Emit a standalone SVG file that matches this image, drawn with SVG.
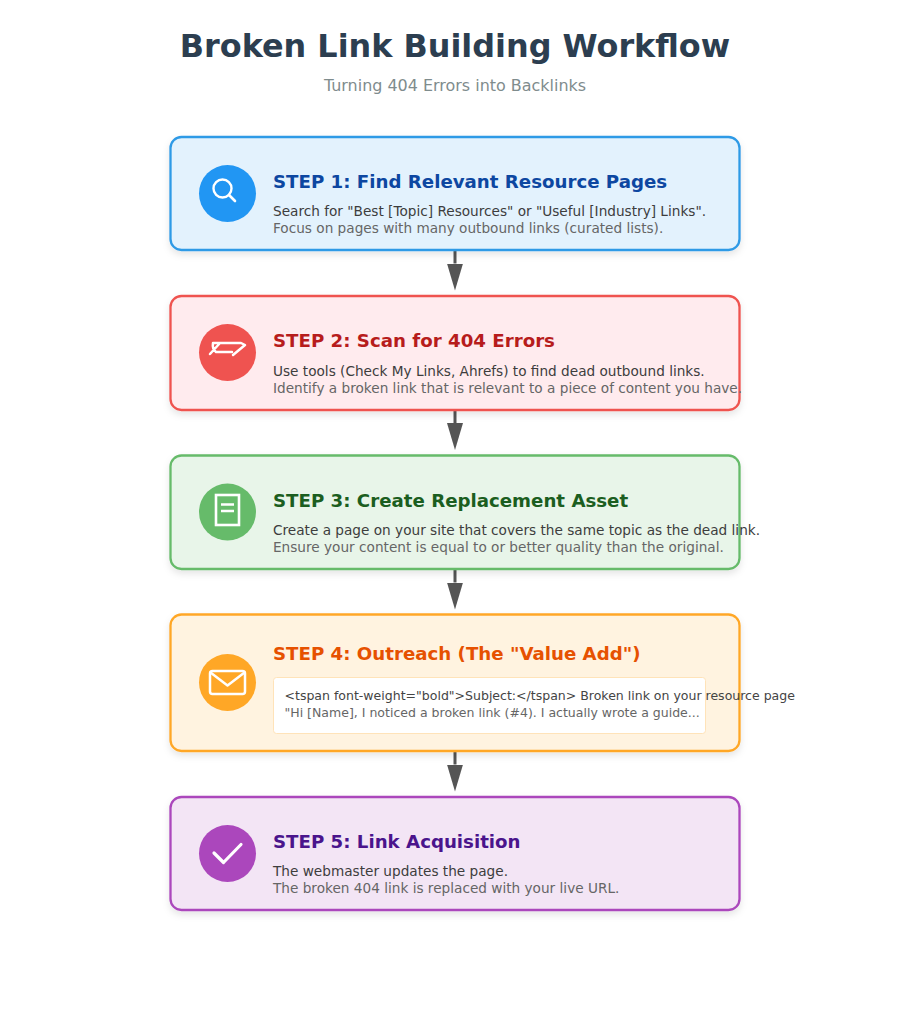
<svg xmlns="http://www.w3.org/2000/svg" width="910" height="1024" viewBox="0 0 910 1024">
<style>
text{font-family:"DejaVu Sans",sans-serif}
.title{font-size:31.85px;font-weight:700;fill:#2c3e50;text-anchor:middle}
.sub{font-size:15.96px;fill:#7f8c8d;text-anchor:middle}
.st{font-size:18.2px;font-weight:700}
.d1{font-size:13.65px;fill:#3d3d3d}
.d2{font-size:13.65px;fill:#666}
.m1{font-size:12.52px;fill:#444}
.m2{font-size:12.52px;fill:#666}
.card{stroke-width:2.3}
.ic{fill:none;stroke:#fff;stroke-linecap:round;stroke-linejoin:round}
.conn{stroke:#555;stroke-width:3;fill:none;marker-end:url(#arrow)}
</style>
<defs>
<filter id="sh" x="-5%" y="-10%" width="110%" height="125%"><feDropShadow dx="0" dy="3.6" stdDeviation="3.6" flood-color="#000" flood-opacity="0.1"/></filter>
<marker id="arrow" markerUnits="userSpaceOnUse" markerWidth="28" markerHeight="16" refX="0" refY="8" orient="auto" viewBox="0 0 28 16"><path d="M0 0L27 8L0 16Z" fill="#555"/></marker>
</defs>
<rect width="910" height="1024" fill="#fff"/>
<text class="title" x="455" y="57">Broken Link Building Workflow</text>
<text class="sub" x="455" y="91">Turning 404 Errors into Backlinks</text>
<g id="connectors">
<path class="conn" d="M455 250V263.500"/>
<path class="conn" d="M455 410V423"/>
<path class="conn" d="M455 569V582.500"/>
<path class="conn" d="M455 751V764.500"/>
</g>
<g id="step1">
<rect class="card" x="170.5" y="137" width="569" height="113" rx="11" fill="#e3f2fd" stroke="#2f9ae6" filter="url(#sh)"/>
<circle cx="227.5" cy="193.500" r="28.500" fill="#2196f3"/>
<circle class="ic" cx="222.500" cy="188.500" r="9" stroke-width="2.400"/>
<path class="ic" d="M229 195L235 201" stroke-width="2.600"/>
<text class="st" x="273" y="187.500" fill="#0d47a1">STEP 1: Find Relevant Resource Pages</text>
<text class="d1" x="273" y="216">Search for "Best [Topic] Resources" or "Useful [Industry] Links".</text>
<text class="d2" x="273" y="233">Focus on pages with many outbound links (curated lists).</text>
</g>
<g id="step2">
<rect class="card" x="170.5" y="296" width="569" height="114" rx="11" fill="#ffebee" stroke="#ef5350" filter="url(#sh)"/>
<circle cx="227.500" cy="352.500" r="28.500" fill="#ef5350"/>
<path class="ic" d="M220 343H213Q212 349 216 352H232M213 343H241L245 345M220 343L210 354M245 345L233 355" stroke-width="2.500"/>
<text class="st" x="273" y="347" fill="#b71c1c">STEP 2: Scan for 404 Errors</text>
<text class="d1" x="273" y="375.500">Use tools (Check My Links, Ahrefs) to find dead outbound links.</text>
<text class="d2" x="273" y="392.500">Identify a broken link that is relevant to a piece of content you have.</text>
</g>
<g id="step3">
<rect class="card" x="170.5" y="455.500" width="569" height="113.500" rx="11" fill="#e8f5e9" stroke="#66bb6a" filter="url(#sh)"/>
<circle cx="227.500" cy="512" r="28.500" fill="#66bb6a"/>
<rect class="ic" x="216" y="495" width="23" height="30" stroke-width="2.600" style="stroke-linejoin:miter"/>
<path class="ic" d="M221 504.500H234M221 511H234" stroke-width="2.300" style="stroke-linecap:butt"/>
<text class="st" x="273" y="506.500" fill="#1b5e20">STEP 3: Create Replacement Asset</text>
<text class="d1" x="273" y="535">Create a page on your site that covers the same topic as the dead link.</text>
<text class="d2" x="273" y="552">Ensure your content is equal to or better quality than the original.</text>
</g>
<g id="step4">
<rect class="card" x="170.5" y="614.500" width="569" height="136.500" rx="11" fill="#fff3e0" stroke="#ffa726" filter="url(#sh)"/>
<circle cx="227.500" cy="682.500" r="28.500" fill="#ffa726"/>
<rect class="ic" x="210" y="671" width="35" height="23" rx="2.500" stroke-width="2.500"/>
<path class="ic" d="M210.500 672.500L227.500 685.500L244.500 672.500" stroke-width="2.500"/>
<text class="st" x="273" y="660" fill="#e65100">STEP 4: Outreach (The "Value Add")</text>
<rect x="273.500" y="677.500" width="432" height="56" rx="3" fill="#fff" stroke="#ffe0b2" stroke-width="0.900"/>
<text class="m1" x="284.500" y="700">&lt;tspan font-weight="bold"&gt;Subject:&lt;/tspan&gt; Broken link on your resource page</text>
<text class="m2" x="284.500" y="717">"Hi [Name], I noticed a broken link (#4). I actually wrote a guide...</text>
</g>
<g id="step5">
<rect class="card" x="170.5" y="797" width="569" height="113" rx="11" fill="#f3e5f5" stroke="#ab47bc" filter="url(#sh)"/>
<circle cx="227.500" cy="853.500" r="28.500" fill="#ab47bc"/>
<path class="ic" d="M214 853L223.500 862.500L241 844.500" stroke-width="3.200"/>
<text class="st" x="273" y="848" fill="#4a148c">STEP 5: Link Acquisition</text>
<text class="d1" x="273" y="876">The webmaster updates the page.</text>
<text class="d2" x="273" y="893">The broken 404 link is replaced with your live URL.</text>
</g>
</svg>
